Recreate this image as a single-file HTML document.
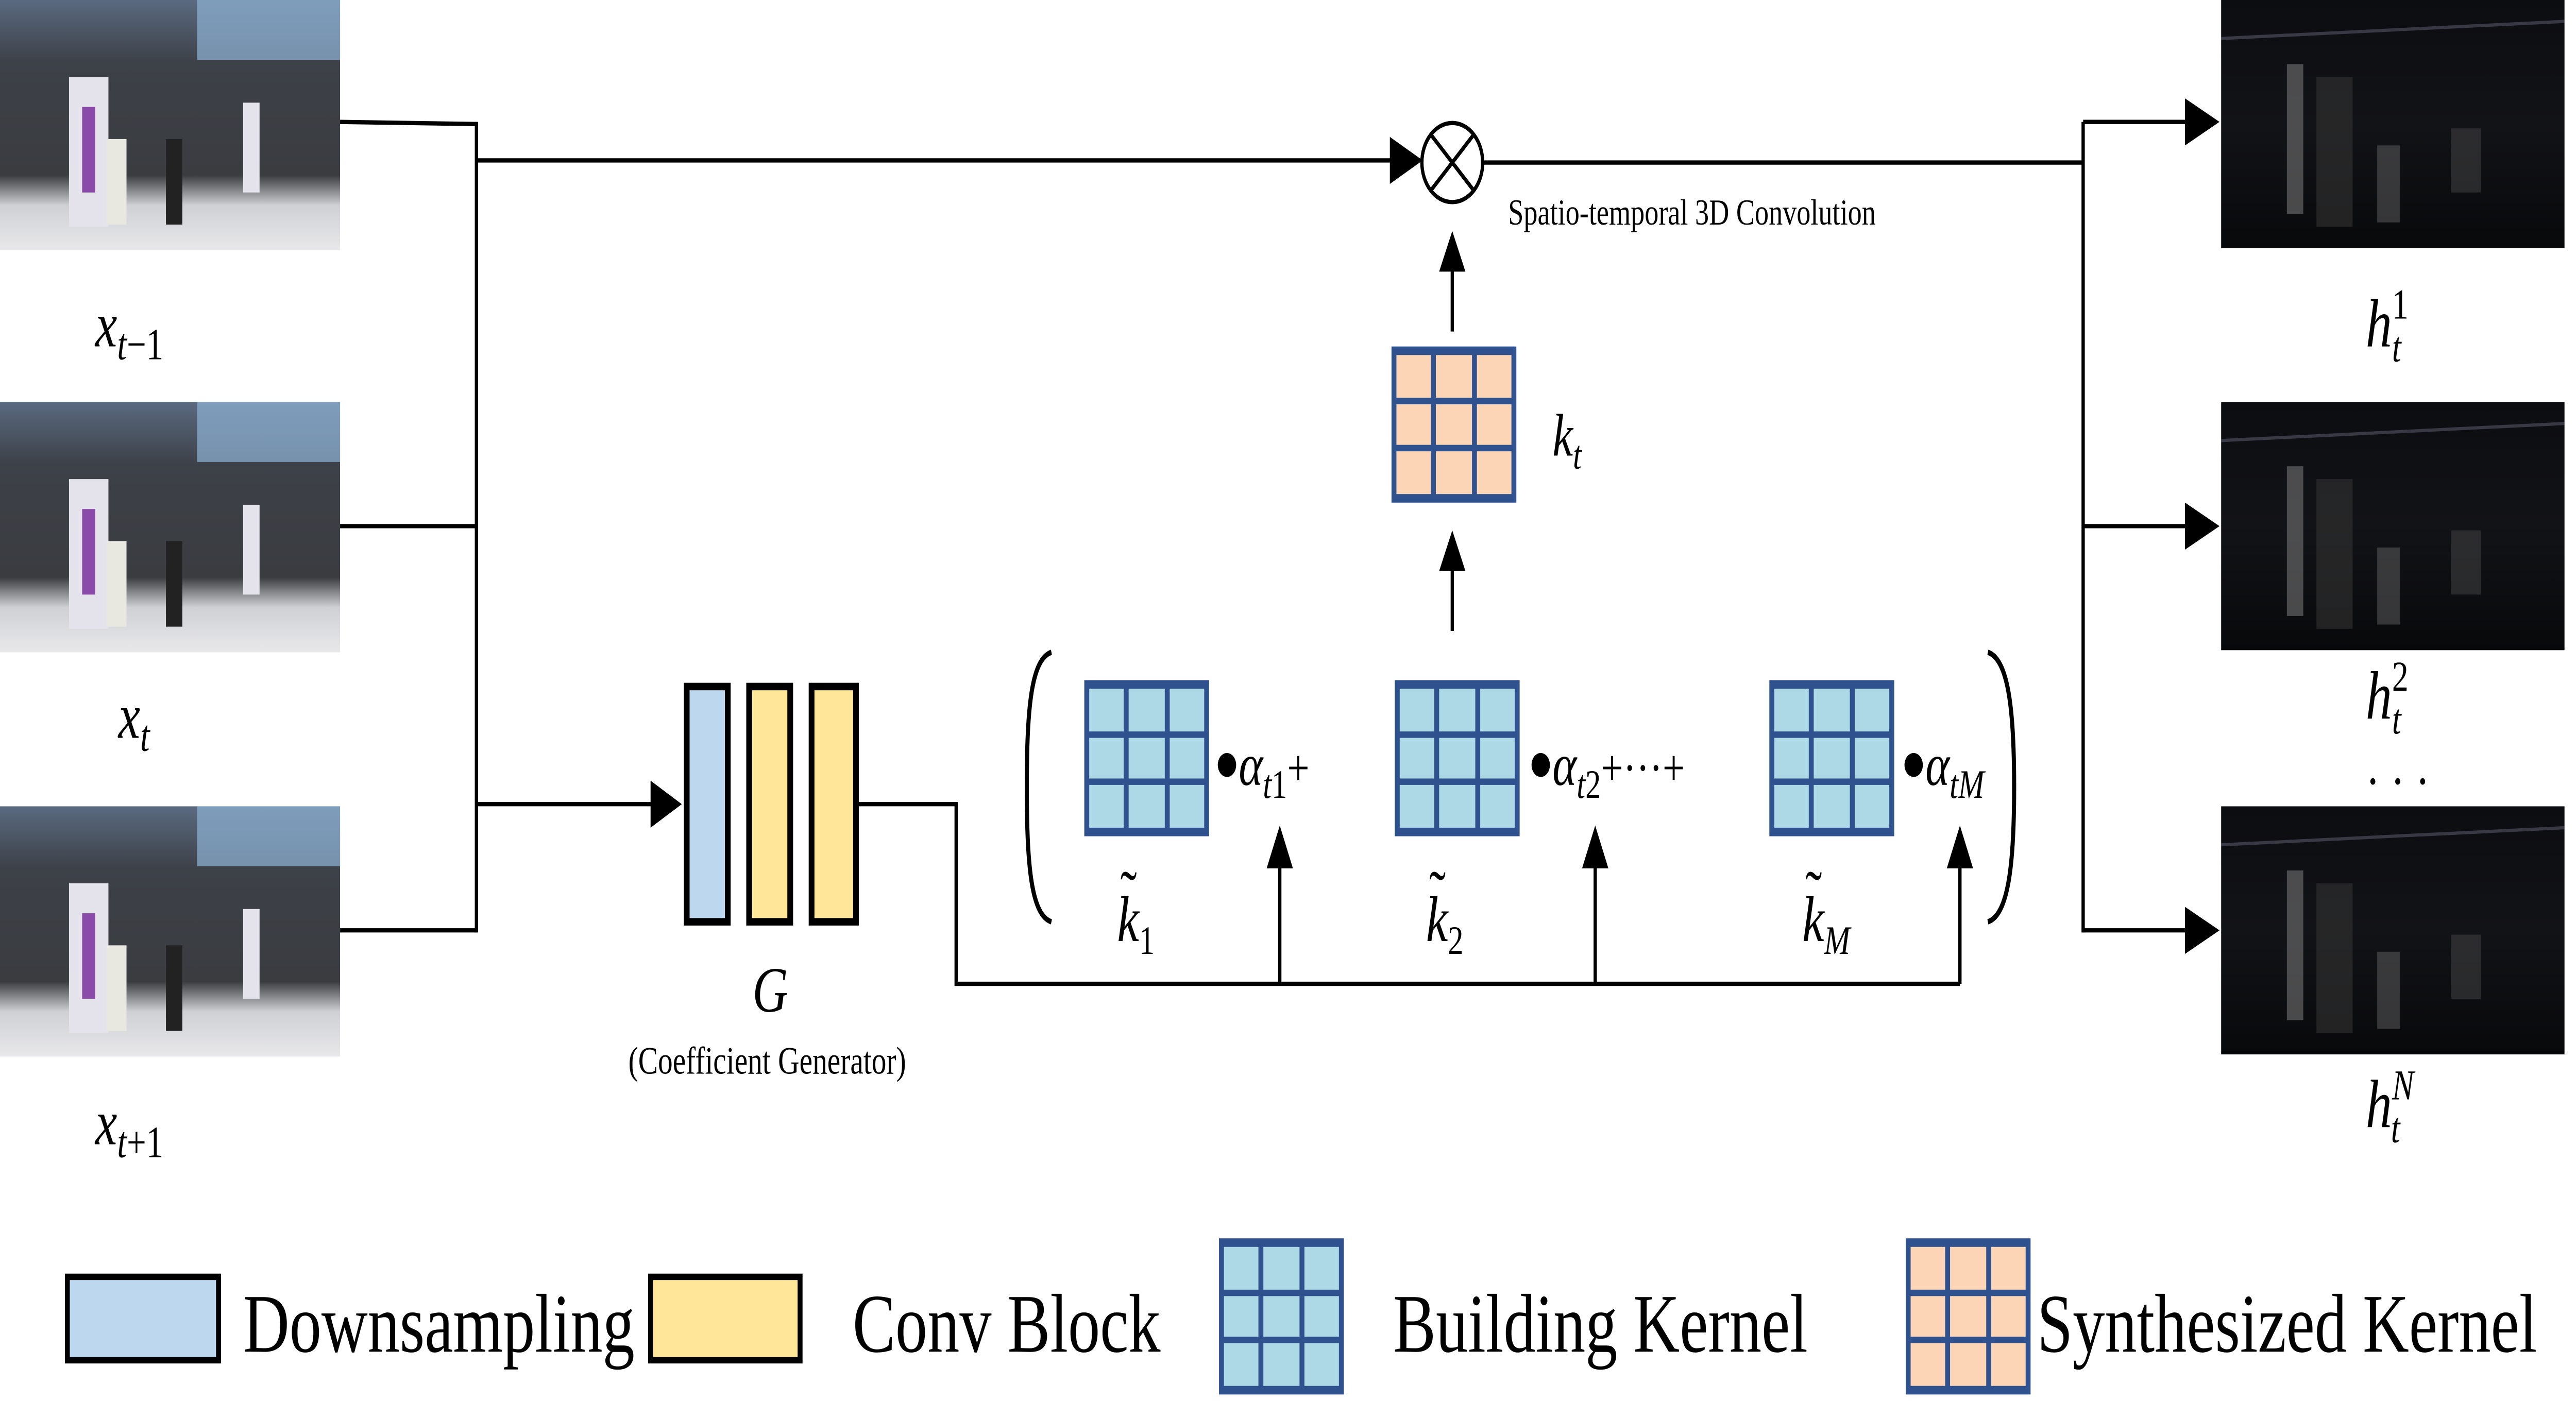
<!DOCTYPE html>
<html><head><meta charset="utf-8"><style>
html,body{margin:0;padding:0;background:#fff;width:100%;height:100%;overflow:hidden;}
svg{display:block;position:absolute;left:0;top:0;width:100vw;height:100vh;}
text{font-family:"Liberation Serif",serif;fill:#000;}
.m{font-style:italic;}
.u{font-style:normal;}
</style></head><body>
<svg viewBox="0 0 1568 663" preserveAspectRatio="none" xmlns="http://www.w3.org/2000/svg">
<defs>
<linearGradient id="ph" x1="0" y1="0" x2="0" y2="1">
<stop offset="0" stop-color="#5a6a80"/><stop offset="0.25" stop-color="#3d4148"/><stop offset="0.7" stop-color="#3a3c40"/><stop offset="0.82" stop-color="#cfd0d4"/><stop offset="1" stop-color="#e8e8ea"/>
</linearGradient>
<linearGradient id="dk" x1="0" y1="0" x2="0" y2="1">
<stop offset="0" stop-color="#0c0d10"/><stop offset="0.5" stop-color="#121316"/><stop offset="1" stop-color="#08090b"/>
</linearGradient>
<g id="photo">
<rect x="0" y="0" width="207" height="117" fill="url(#ph)"/>
<rect x="120" y="0" width="87" height="28" fill="#8fb3d6" opacity="0.7"/>
<rect x="42" y="36" width="24" height="70" fill="#e4e2ea"/>
<rect x="50" y="50" width="8" height="40" fill="#8a4aa8"/>
<rect x="65" y="65" width="12" height="40" fill="#e8e8e0"/>
<rect x="148" y="48" width="10" height="42" fill="#e4e2ea"/>
<rect x="101" y="65" width="10" height="40" fill="#222"/>
</g>
<g id="dphoto">
<rect x="0" y="0" width="209" height="116" fill="url(#dk)"/>
<rect x="40" y="30" width="10" height="70" fill="#888" opacity="0.5"/>
<rect x="58" y="36" width="22" height="70" fill="#333" opacity="0.6"/>
<rect x="95" y="68" width="14" height="36" fill="#777" opacity="0.4"/>
<rect x="140" y="60" width="18" height="30" fill="#555" opacity="0.4"/>
<line x1="0" y1="18" x2="209" y2="10" stroke="#556" stroke-width="1.5" opacity="0.6"/>
</g>
<g id="bk">
<rect x="0" y="0" width="76" height="73" fill="#2f528f"/>
<g fill="#add8e6">
<rect x="3" y="4" width="21" height="20"/><rect x="27" y="4" width="22" height="20"/><rect x="52" y="4" width="21" height="20"/>
<rect x="3" y="27" width="21" height="19"/><rect x="27" y="27" width="22" height="19"/><rect x="52" y="27" width="21" height="19"/>
<rect x="3" y="49" width="21" height="20"/><rect x="27" y="49" width="22" height="20"/><rect x="52" y="49" width="21" height="20"/>
</g></g>
<g id="sk">
<rect x="0" y="0" width="76" height="73" fill="#2f528f"/>
<g fill="#fbd5b5">
<rect x="3" y="4" width="21" height="20"/><rect x="27" y="4" width="22" height="20"/><rect x="52" y="4" width="21" height="20"/>
<rect x="3" y="27" width="21" height="19"/><rect x="27" y="27" width="22" height="19"/><rect x="52" y="27" width="21" height="19"/>
<rect x="3" y="49" width="21" height="20"/><rect x="27" y="49" width="22" height="20"/><rect x="52" y="49" width="21" height="20"/>
</g></g>
</defs>

<use href="#photo" x="0" y="0"/>
<use href="#photo" x="0" y="188"/>
<use href="#photo" x="0" y="377"/>
<text class="m" x="58" y="162" font-size="30">x<tspan font-size="21" dy="6">t</tspan><tspan class="u" font-size="21">−1</tspan></text>
<text class="m" x="72" y="345" font-size="30">x<tspan font-size="21" dy="6">t</tspan></text>
<text class="m" x="58" y="535" font-size="30">x<tspan font-size="21" dy="6">t</tspan><tspan class="u" font-size="21">+1</tspan></text>

<use href="#dphoto" x="1352" y="0"/>
<use href="#dphoto" x="1352" y="188"/>
<use href="#dphoto" x="1352" y="377"/>
<text class="m" x="1440" y="162" font-size="32">h<tspan font-size="20" dy="-13" class="u">1</tspan><tspan font-size="20" dx="-10" dy="20">t</tspan></text>
<text class="m" x="1440" y="336" font-size="32">h<tspan font-size="20" dy="-13" class="u">2</tspan><tspan font-size="20" dx="-10" dy="20">t</tspan></text>
<text x="1440" y="374" font-size="26">· · ·</text>
<text class="m" x="1440" y="527" font-size="32">h<tspan font-size="20" dy="-13">N</tspan><tspan font-size="20" dx="-14" dy="20">t</tspan></text>

<g stroke="#000" stroke-width="2" fill="none">
<polyline points="207,57 290,58"/><polyline points="207,246 290,246"/><polyline points="207,435 290,435"/>
<line x1="290" y1="57" x2="290" y2="436"/>
<line x1="290" y1="75" x2="848" y2="75"/>
<line x1="290" y1="376" x2="400" y2="376"/>
<polyline points="521,376 582,376 582,460 1193,460"/>
<line x1="779" y1="460" x2="779" y2="405"/>
<line x1="971" y1="460" x2="971" y2="405"/>
<line x1="1193" y1="460" x2="1193" y2="405"/>
<line x1="884" y1="295" x2="884" y2="265"/>
<line x1="884" y1="155" x2="884" y2="125"/>
<circle cx="884" cy="76" r="18.5"/>
<line x1="871" y1="63" x2="897" y2="89"/><line x1="897" y1="63" x2="871" y2="89"/>
<line x1="903" y1="76" x2="1268" y2="76"/>
<line x1="1268" y1="57" x2="1268" y2="436"/>
<line x1="1268" y1="57" x2="1330" y2="57"/>
<line x1="1268" y1="246" x2="1330" y2="246"/>
<line x1="1268" y1="435" x2="1330" y2="435"/>
<path d="M640,305 C628,308 625,330 625,368 C625,406 628,428 640,431" stroke-width="2.5"/>
<path d="M1210,305 C1222,308 1226,330 1226,368 C1226,406 1222,428 1210,431" stroke-width="2.5"/>
</g>
<g fill="#000">
<polygon points="846,64 866,75 846,86"/>
<polygon points="396,365 415,376 396,387"/>
<polygon points="771,406 779,386 787,406"/>
<polygon points="963,406 971,386 979,406"/>
<polygon points="1185,406 1193,386 1201,406"/>
<polygon points="876,267 884,248 892,267"/>
<polygon points="876,127 884,108 892,127"/>
<polygon points="1330,46 1351,57 1330,68"/>
<polygon points="1330,235 1351,246 1330,257"/>
<polygon points="1330,424 1351,435 1330,446"/>
</g>
<text x="918" y="105" font-size="17">Spatio-temporal 3D Convolution</text>

<g stroke="#000" stroke-width="3.5">
<rect x="418" y="321" width="25" height="110" fill="#bdd7ee"/>
<rect x="456" y="321" width="25" height="110" fill="#ffe699"/>
<rect x="494" y="321" width="27" height="110" fill="#ffe699"/>
</g>
<text class="m" x="458" y="473" font-size="30">G</text>
<text x="467" y="502" font-size="18" text-anchor="middle">(Coefficient Generator)</text>

<use href="#sk" x="847" y="162"/>
<text class="m" x="945" y="213" font-size="28">k<tspan font-size="19" dy="6">t</tspan></text>
<use href="#bk" x="660" y="318"/>
<use href="#bk" x="849" y="318"/>
<use href="#bk" x="1077" y="318"/>
<g font-size="28">
<text x="739" y="365"><tspan font-size="26">●</tspan></text>
<text class="m" x="754" y="367">α<tspan font-size="19" dy="6">t</tspan><tspan class="u" font-size="19">1</tspan><tspan class="u" dy="-6" font-size="24">+</tspan></text>
<text x="930" y="365"><tspan font-size="26">●</tspan></text>
<text class="m" x="945" y="367">α<tspan font-size="19" dy="6">t</tspan><tspan class="u" font-size="19">2</tspan><tspan class="u" dy="-6" font-size="24">+···+</tspan></text>
<text x="1157" y="365"><tspan font-size="26">●</tspan></text>
<text class="m" x="1172" y="367">α<tspan font-size="19" dy="6">tM</tspan></text>
</g>
<g font-size="30">
<text x="680" y="440" class="m">k<tspan font-size="19" dy="6" class="u">1</tspan></text>
<text x="868" y="440" class="m">k<tspan font-size="19" dy="6" class="u">2</tspan></text>
<text x="1097" y="440" class="m">k<tspan font-size="19" dy="6">M</tspan></text>
</g>
<g font-size="30"><text x="682" y="428">˜</text><text x="870" y="428">˜</text><text x="1099" y="428">˜</text></g>

<rect x="41" y="597" width="92" height="39" fill="#bdd7ee" stroke="#000" stroke-width="3"/>
<text x="148" y="632" font-size="39">Downsampling</text>
<rect x="396" y="597" width="91" height="39" fill="#ffe699" stroke="#000" stroke-width="3"/>
<text x="519" y="632" font-size="39">Conv Block</text>
<use href="#bk" x="742" y="579"/>
<text x="848" y="632" font-size="39">Building Kernel</text>
<use href="#sk" x="1160" y="579"/>
<text x="1240" y="632" font-size="39">Synthesized Kernel</text>
</svg>
</body></html>
